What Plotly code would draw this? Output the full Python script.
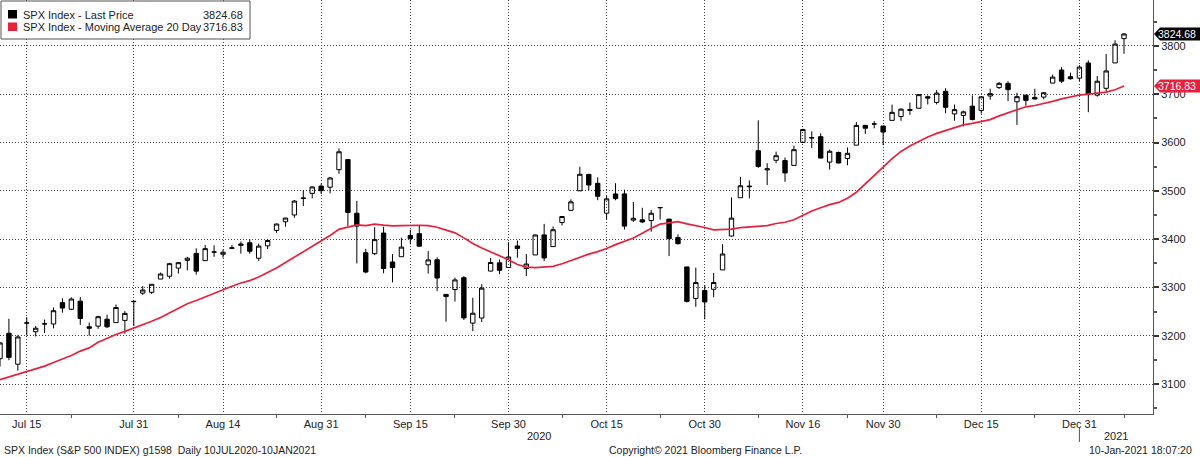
import plotly.graph_objects as go

# ---------------- data ----------------
dates = [
    "2020-07-10", "2020-07-13", "2020-07-14", "2020-07-15", "2020-07-16", "2020-07-17", "2020-07-20", "2020-07-21",
    "2020-07-22", "2020-07-23", "2020-07-24", "2020-07-27", "2020-07-28", "2020-07-29", "2020-07-30", "2020-07-31",
    "2020-08-03", "2020-08-04", "2020-08-05", "2020-08-06", "2020-08-07", "2020-08-10", "2020-08-11", "2020-08-12",
    "2020-08-13", "2020-08-14", "2020-08-17", "2020-08-18", "2020-08-19", "2020-08-20", "2020-08-21", "2020-08-24",
    "2020-08-25", "2020-08-26", "2020-08-27", "2020-08-28", "2020-08-31",
    "2020-09-01", "2020-09-02", "2020-09-03", "2020-09-04", "2020-09-08", "2020-09-09", "2020-09-10", "2020-09-11",
    "2020-09-14", "2020-09-15", "2020-09-16", "2020-09-17", "2020-09-18", "2020-09-21", "2020-09-22", "2020-09-23",
    "2020-09-24", "2020-09-25", "2020-09-28", "2020-09-29", "2020-09-30",
    "2020-10-01", "2020-10-02", "2020-10-05", "2020-10-06", "2020-10-07", "2020-10-08", "2020-10-09", "2020-10-12",
    "2020-10-13", "2020-10-14", "2020-10-15", "2020-10-16", "2020-10-19", "2020-10-20", "2020-10-21", "2020-10-22",
    "2020-10-23", "2020-10-26", "2020-10-27", "2020-10-28", "2020-10-29", "2020-10-30",
    "2020-11-02", "2020-11-03", "2020-11-04", "2020-11-05", "2020-11-06", "2020-11-09", "2020-11-10", "2020-11-11",
    "2020-11-12", "2020-11-13", "2020-11-16", "2020-11-17", "2020-11-18", "2020-11-19", "2020-11-20", "2020-11-23",
    "2020-11-24", "2020-11-25", "2020-11-27", "2020-11-30",
    "2020-12-01", "2020-12-02", "2020-12-03", "2020-12-04", "2020-12-07", "2020-12-08", "2020-12-09", "2020-12-10",
    "2020-12-11", "2020-12-14", "2020-12-15", "2020-12-16", "2020-12-17", "2020-12-18", "2020-12-21", "2020-12-22",
    "2020-12-23", "2020-12-24", "2020-12-28", "2020-12-29", "2020-12-30", "2020-12-31",
    "2021-01-04", "2021-01-05", "2021-01-06", "2021-01-07", "2021-01-08",
]

opens = [
    3152.47, 3205.08, 3141.11, 3225.98, 3208.36, 3224.21, 3224.29, 3268.52, 3254.86, 3271.64, 3218.58, 3219.84,
    3234.27, 3227.22, 3231.76, 3270.45,
    3288.26, 3289.92, 3317.37, 3323.17, 3340.05, 3356.04, 3370.34, 3355.46, 3372.95, 3368.66, 3380.86, 3387.04,
    3392.51, 3360.48, 3386.01, 3418.09, 3435.95, 3449.97, 3485.14, 3494.69, 3509.73,
    3507.44, 3543.76, 3564.74, 3453.60, 3371.88, 3369.82, 3412.56, 3352.70, 3363.56, 3407.73, 3411.23, 3346.86,
    3357.38, 3285.57, 3295.75, 3320.11, 3226.14, 3236.66, 3333.90, 3350.92, 3341.21,
    3385.87, 3338.94, 3367.27, 3408.74, 3384.56, 3434.28, 3459.67, 3500.02, 3534.01, 3515.47, 3453.72, 3493.50,
    3493.66, 3439.38, 3439.91, 3438.50, 3464.90, 3441.42, 3403.15, 3342.48, 3277.17, 3293.59,
    3296.20, 3336.25, 3406.46, 3485.74, 3508.34, 3583.04, 3543.26, 3563.22, 3562.67, 3552.57, 3600.16, 3610.31,
    3612.09, 3559.41, 3579.31, 3566.82, 3594.52, 3635.50, 3638.55, 3634.18,
    3645.87, 3653.78, 3668.28, 3670.94, 3694.73, 3683.05, 3705.98, 3659.13, 3656.08, 3675.27, 3666.41, 3696.25,
    3713.65, 3722.39, 3684.28, 3698.08, 3693.42, 3694.03, 3723.03, 3750.01, 3736.19, 3733.27,
    3764.61, 3698.02, 3712.20, 3764.71, 3815.05,
]

highs = [
    3186.82, 3235.32, 3200.95, 3238.28, 3220.39, 3233.52, 3258.61, 3277.29, 3279.32, 3279.99, 3227.26, 3241.43,
    3243.72, 3264.74, 3250.92, 3272.17,
    3302.73, 3306.84, 3330.77, 3351.03, 3352.54, 3363.29, 3381.01, 3387.89, 3387.24, 3378.51, 3387.59, 3395.06,
    3399.54, 3390.80, 3399.96, 3432.09, 3444.21, 3481.07, 3501.38, 3509.23, 3514.77,
    3528.03, 3588.11, 3564.85, 3479.15, 3379.97, 3424.77, 3425.55, 3368.95, 3402.93, 3419.48, 3428.92, 3375.17,
    3362.27, 3285.57, 3320.31, 3323.35, 3278.70, 3306.88, 3360.74, 3357.92, 3393.56,
    3397.18, 3369.10, 3409.57, 3431.56, 3426.26, 3447.28, 3482.34, 3549.85, 3534.01, 3527.94, 3489.08, 3515.76,
    3502.42, 3476.93, 3464.86, 3460.53, 3466.46, 3441.42, 3409.51, 3342.48, 3341.05, 3304.93,
    3330.14, 3389.49, 3486.25, 3529.05, 3521.58, 3645.99, 3557.22, 3581.16, 3569.02, 3593.66, 3628.51, 3623.11,
    3619.09, 3585.22, 3581.23, 3589.81, 3642.31, 3635.50, 3644.31, 3634.18,
    3678.45, 3670.96, 3682.73, 3699.20, 3697.41, 3708.45, 3712.39, 3678.49, 3665.91, 3697.61, 3695.29, 3711.27,
    3725.12, 3726.70, 3702.90, 3698.26, 3711.24, 3703.82, 3740.51, 3756.12, 3744.63, 3760.20,
    3769.99, 3737.83, 3783.04, 3811.55, 3826.69,
]

lows = [
    3136.22, 3149.43, 3127.66, 3200.76, 3198.59, 3205.65, 3215.16, 3247.77, 3253.10, 3222.66, 3200.05, 3214.25,
    3216.17, 3227.22, 3204.13, 3220.26,
    3284.53, 3286.37, 3317.37, 3318.14, 3328.72, 3335.44, 3326.44, 3355.46, 3363.35, 3361.64, 3379.22, 3370.15,
    3369.66, 3354.69, 3379.31, 3413.13, 3425.84, 3444.15, 3468.35, 3484.32, 3493.25,
    3494.60, 3535.23, 3427.41, 3349.63, 3329.27, 3366.84, 3329.25, 3310.47, 3363.56, 3389.25, 3384.45, 3328.82,
    3292.40, 3229.10, 3270.95, 3232.57, 3209.45, 3228.44, 3332.91, 3327.54, 3340.47,
    3361.39, 3323.69, 3367.27, 3354.54, 3384.56, 3428.15, 3458.07, 3499.61, 3500.86, 3480.55, 3440.89, 3480.45,
    3419.93, 3435.65, 3433.06, 3415.34, 3440.45, 3364.86, 3388.71, 3268.89, 3259.82, 3233.94,
    3279.74, 3336.25, 3405.17, 3485.74, 3484.34, 3547.48, 3511.91, 3557.00, 3518.58, 3552.57, 3600.16, 3588.68,
    3567.33, 3543.84, 3556.85, 3552.77, 3594.52, 3617.76, 3629.33, 3594.39,
    3645.87, 3644.84, 3657.17, 3670.94, 3678.88, 3678.83, 3660.54, 3645.18, 3633.40, 3645.84, 3659.62, 3688.57,
    3710.87, 3685.84, 3636.48, 3676.16, 3689.28, 3689.32, 3723.03, 3723.31, 3730.21, 3726.88,
    3662.71, 3695.07, 3705.34, 3764.71, 3783.60,
]

closes = [
    3185.04, 3155.22, 3197.52, 3226.56, 3215.57, 3224.73, 3251.84, 3257.30, 3276.02, 3235.66, 3215.63, 3239.41,
    3218.44, 3258.44, 3246.22, 3271.12,
    3294.61, 3306.51, 3327.77, 3349.16, 3351.28, 3360.47, 3333.69, 3380.35, 3373.43, 3372.85, 3381.99, 3389.78,
    3374.85, 3385.51, 3397.16, 3431.28, 3443.62, 3478.73, 3484.55, 3508.01, 3500.31,
    3526.65, 3580.84, 3455.06, 3426.96, 3331.84, 3398.96, 3339.19, 3340.97, 3383.54, 3401.20, 3385.49, 3357.01,
    3319.47, 3281.06, 3315.57, 3236.92, 3246.59, 3298.46, 3351.60, 3335.47, 3363.00,
    3380.80, 3348.42, 3408.60, 3360.97, 3419.44, 3446.83, 3477.14, 3534.22, 3511.93, 3488.67, 3483.34, 3483.81,
    3426.92, 3443.12, 3435.56, 3453.49, 3465.39, 3400.97, 3390.68, 3271.03, 3310.11, 3269.96,
    3310.24, 3369.16, 3443.44, 3510.45, 3509.44, 3550.50, 3545.53, 3572.66, 3537.01, 3585.15, 3626.91, 3609.53,
    3567.79, 3581.87, 3557.54, 3577.59, 3635.41, 3629.65, 3638.35, 3621.63,
    3662.45, 3669.01, 3666.72, 3699.12, 3691.96, 3702.25, 3672.82, 3668.10, 3663.46, 3647.49, 3694.62, 3701.17,
    3722.48, 3709.41, 3694.92, 3687.26, 3690.01, 3703.06, 3735.36, 3727.04, 3732.04, 3756.07,
    3700.65, 3726.86, 3748.14, 3803.79, 3824.68,
]

ma20 = [
    3109.15, 3114.84, 3121.39, 3126.48, 3131.59, 3137.06, 3144.76, 3151.73, 3158.97, 3168.24, 3174.83, 3186.35,
    3194.61, 3202.51, 3209.03, 3216.09,
    3221.83, 3229.89, 3237.78, 3247.64, 3255.95, 3266.21, 3273.02, 3280.71, 3288.60, 3296.01, 3302.52, 3309.14,
    3314.08, 3321.58, 3330.65, 3340.25, 3351.50, 3362.52, 3374.44, 3386.28, 3396.57,
    3407.57, 3420.23, 3425.52, 3429.30, 3427.87, 3431.14, 3429.08, 3427.46, 3427.99, 3428.95, 3428.74, 3427.84,
    3424.54, 3418.74, 3412.95, 3402.62, 3391.01, 3381.71, 3373.88, 3365.64, 3357.46,
    3347.46, 3342.13, 3341.21, 3342.66, 3343.69, 3349.07, 3355.88, 3363.41, 3368.95, 3374.11, 3380.43, 3388.64,
    3395.94, 3402.31, 3412.24, 3422.59, 3430.94, 3433.40, 3436.17, 3431.57, 3428.03, 3424.11,
    3419.19, 3419.60, 3420.80, 3423.98, 3425.60, 3426.41, 3428.09, 3432.29, 3434.97, 3440.04, 3450.04, 3458.36,
    3464.97, 3471.39, 3476.00, 3484.83, 3497.07, 3515.00, 3531.41, 3548.99,
    3566.60, 3581.60, 3592.76, 3602.19, 3611.32, 3618.91, 3625.27, 3630.04, 3636.37, 3639.48, 3642.87, 3647.45,
    3655.18, 3661.56, 3668.43, 3673.91, 3676.64, 3680.31, 3685.17, 3690.44, 3693.92, 3698.27,
    3699.96, 3701.35, 3704.16, 3709.24, 3716.83,
]

major_tick_dates = ["2020-07-15", "2020-07-31", "2020-08-14", "2020-08-31", "2020-09-15", "2020-09-30",
                    "2020-10-15", "2020-10-30", "2020-11-16", "2020-11-30", "2020-12-15", "2020-12-31"]
major_tick_labels = ["Jul 15", "Jul 31", "Aug 14", "Aug 31", "Sep 15", "Sep 30",
                     "Oct 15", "Oct 30", "Nov 16", "Nov 30", "Dec 15", "Dec 31"]
minor_tick_dates = ["2020-07-22", "2020-08-07", "2020-08-24", "2020-09-08", "2020-09-22", "2020-10-08",
                    "2020-10-23", "2020-11-09", "2020-11-23", "2020-12-08", "2020-12-23", "2021-01-08"]

series_names = ["SPX Index - Last Price", "SPX Index - Moving Average 20 Day"]
footer_left = "SPX Index (S&P 500 INDEX) g1598  Daily 10JUL2020-10JAN2021"
footer_mid = "Copyright\u00a9 2021 Bloomberg Finance L.P."
footer_right = "10-Jan-2021 18:07:20"

# ---------------- layout helpers ----------------
FONT = "Liberation Sans, Arial, sans-serif"
TXT = "#222222"
RED = "#e8203c"
Y_MIN, Y_MAX = 3038, 3895
X_MIN, X_MAX = 0.0, 129.25
PLOT_W, PLOT_H = 1153, 414

x_idx = list(range(len(dates)))
pos = {d: i for i, d in enumerate(dates)}
major_vals = [pos[d] for d in major_tick_dates]
minor_vals = [pos[d] for d in minor_tick_dates]


def px(v):
    return v / PLOT_W


def py(v):
    return 1 - v / PLOT_H


def val_to_paper(v):
    return (v - Y_MIN) / (Y_MAX - Y_MIN)


fig = go.Figure()

fig.add_trace(go.Candlestick(
    x=x_idx, open=opens, high=highs, low=lows, close=closes,
    increasing=dict(line=dict(color="black", width=1), fillcolor="rgba(255,255,255,0)"),
    decreasing=dict(line=dict(color="black", width=1), fillcolor="black"),
    whiskerwidth=0, showlegend=False, hoverinfo="skip",
))

fig.add_trace(go.Scatter(
    x=x_idx, y=ma20, mode="lines", line=dict(color=RED, width=1.7),
    showlegend=False, hoverinfo="skip",
))

shapes = []
annotations = []

# legend box
shapes.append(dict(type="rect", xref="paper", yref="paper",
                   x0=px(1), x1=px(250), y0=py(39), y1=py(1),
                   line=dict(color="#555555", width=1), fillcolor="white", layer="above"))
shapes.append(dict(type="rect", xref="paper", yref="paper",
                   x0=px(8), x1=px(17), y0=py(18.5), y1=py(10),
                   line=dict(width=0), fillcolor="black", layer="above"))
shapes.append(dict(type="rect", xref="paper", yref="paper",
                   x0=px(8), x1=px(17), y0=py(31), y1=py(22.5),
                   line=dict(width=0), fillcolor=RED, layer="above"))

legend_vals = [f"{closes[-1]:.2f}", f"{ma20[-1]:.2f}"]
for i, (name, v) in enumerate(zip(series_names, legend_vals)):
    yc = 14.5 + 12 * i
    annotations.append(dict(xref="paper", yref="paper", x=px(21), y=py(yc), text=name,
                            xanchor="left", yanchor="middle", showarrow=False,
                            font=dict(family=FONT, size=11, color=TXT)))
    annotations.append(dict(xref="paper", yref="paper", x=px(245), y=py(yc), text=v,
                            xanchor="right", yanchor="middle", showarrow=False,
                            font=dict(family=FONT, size=11, color=TXT)))

# right-edge value tags
for v, col in [(closes[-1], "black"), (ma20[-1], RED)]:
    shapes.append(dict(type="path", xref="paper", yref="paper",
                       xsizemode="pixel", ysizemode="pixel",
                       xanchor=1, yanchor=val_to_paper(v),
                       path="M 1 0 L 7 6.5 L 47 6.5 L 47 -6.5 L 7 -6.5 Z",
                       fillcolor=col, line=dict(width=0), layer="above"))
    annotations.append(dict(xref="paper", yref="y", x=1, y=v, text=f"{v:.2f}",
                            xanchor="left", yanchor="middle", xshift=4, showarrow=False,
                            borderpad=0, font=dict(family=FONT, size=10.5, color="white")))

# year labels and separator
annotations.append(dict(xref="paper", yref="paper", x=px(539), y=py(436), text="2020",
                        xanchor="center", yanchor="middle", showarrow=False,
                        font=dict(family=FONT, size=11, color=TXT)))
annotations.append(dict(xref="paper", yref="paper", x=px(1116), y=py(436), text="2021",
                        xanchor="center", yanchor="middle", showarrow=False,
                        font=dict(family=FONT, size=11, color=TXT)))
shapes.append(dict(type="line", xref="x", yref="paper",
                   x0=pos["2020-12-31"], x1=pos["2020-12-31"], y0=py(428), y1=py(442),
                   line=dict(color="#555555", width=1)))

# footer
for text, xp, anchor in [(footer_left, 2, "left"), (footer_mid, 705, "center"), (footer_right, 1194, "right")]:
    annotations.append(dict(xref="paper", yref="paper", x=px(xp), y=py(450), text=text,
                            xanchor=anchor, yanchor="middle", showarrow=False,
                            font=dict(family=FONT, size=10.5, color=TXT)))

fig.update_layout(
    width=1200, height=457,
    margin=dict(l=0, r=47, t=0, b=43),
    paper_bgcolor="white", plot_bgcolor="white",
    font=dict(family=FONT, size=11, color=TXT),
    showlegend=False,
    shapes=shapes, annotations=annotations,
    xaxis=dict(
        range=[X_MIN, X_MAX], tickmode="array", tickvals=major_vals, ticktext=major_tick_labels,
        showgrid=True, gridcolor="#444444", griddash="1px,2px", gridwidth=1,
        showline=True, linecolor="#555555", linewidth=1,
        ticks="", ticklen=0,
        minor=dict(tickmode="array", tickvals=minor_vals, ticks="outside", ticklen=3,
                   tickcolor="#555555", showgrid=False),
        zeroline=False, rangeslider=dict(visible=False), fixedrange=True,
        tickfont=dict(family=FONT, size=11, color=TXT),
    ),
    yaxis=dict(
        range=[Y_MIN, Y_MAX], side="right", tickmode="linear", tick0=0, dtick=100,
        showgrid=True, gridcolor="#444444", griddash="1px,2px", gridwidth=1,
        showline=True, linecolor="#555555", linewidth=1,
        ticks="outside", ticklen=5, tickwidth=2, tickcolor="#333333",
        minor=dict(dtick=50, ticks="outside", ticklen=3, tickcolor="#555555", showgrid=False),
        zeroline=False, fixedrange=True,
        tickfont=dict(family=FONT, size=11, color=TXT),
    ),
)

fig.write_html("out.html")
